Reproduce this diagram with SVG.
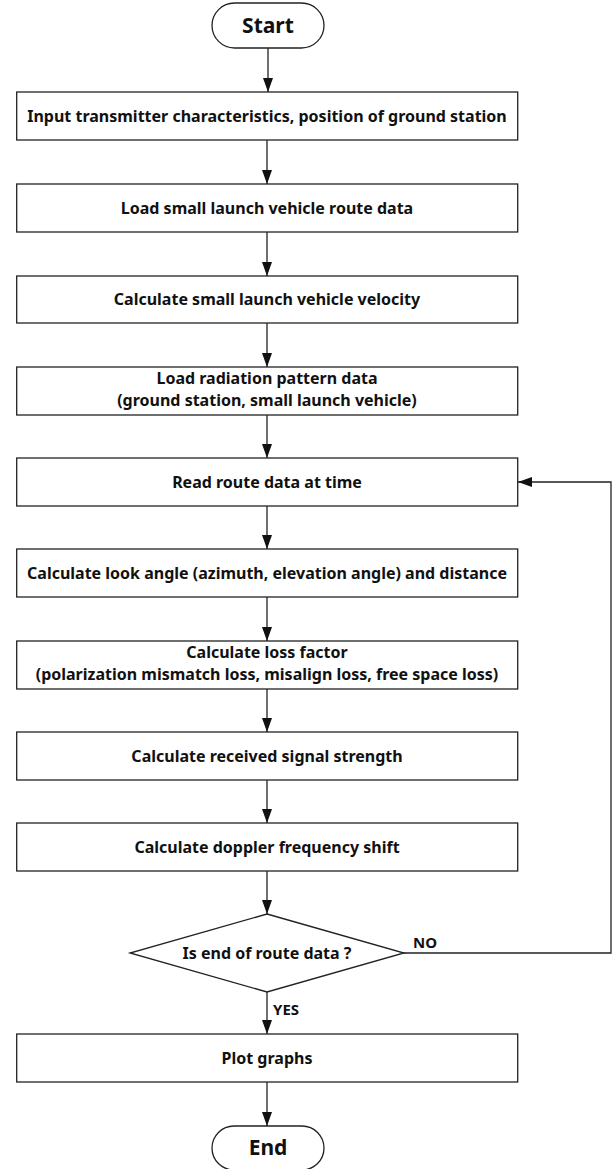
<svg xmlns="http://www.w3.org/2000/svg" width="612" height="1169" viewBox="0 0 612 1169">
<style>
.box{fill:#fff;stroke:#222;stroke-width:1.3}
.t{font-family:"Noto Sans","Open Sans","DejaVu Sans",sans-serif;font-weight:bold;font-size:16px;fill:#111;text-anchor:middle}
.big{font-size:21px}
.lbl{text-anchor:start;font-size:15px}
.c{fill:none;stroke:#222;stroke-width:1.3}
</style>
<defs>
<marker id="ah" markerUnits="userSpaceOnUse" markerWidth="14" markerHeight="10" viewBox="0 0 14 10" refX="14" refY="5" orient="auto">
<path d="M0,0 L14,5 L0,10 z" fill="#111"/>
</marker>
</defs>
<rect width="612" height="1169" fill="#fff"/>
<g id="connectors">
<line class="c" x1="268" y1="48" x2="268" y2="92" marker-end="url(#ah)"/>
<line class="c" x1="267" y1="140" x2="267" y2="184" marker-end="url(#ah)"/>
<line class="c" x1="267" y1="232" x2="267" y2="276" marker-end="url(#ah)"/>
<line class="c" x1="267" y1="323" x2="267" y2="367" marker-end="url(#ah)"/>
<line class="c" x1="267" y1="415" x2="267" y2="458" marker-end="url(#ah)"/>
<line class="c" x1="267" y1="506" x2="267" y2="549" marker-end="url(#ah)"/>
<line class="c" x1="267" y1="597" x2="267" y2="641" marker-end="url(#ah)"/>
<line class="c" x1="267" y1="689" x2="267" y2="732" marker-end="url(#ah)"/>
<line class="c" x1="267" y1="780" x2="267" y2="823" marker-end="url(#ah)"/>
<line class="c" x1="267" y1="871" x2="267" y2="914" marker-end="url(#ah)"/>
<line class="c" x1="267" y1="992" x2="267" y2="1034" marker-end="url(#ah)"/>
<line class="c" x1="267" y1="1082" x2="267" y2="1126" marker-end="url(#ah)"/>
<polyline class="c" points="404,953 611,953 611,482 518,482" marker-end="url(#ah)"/>
<text class="t lbl" x="413" y="948">NO</text>
<text class="t lbl" x="273" y="1015">YES</text>
</g>
<g id="start"><rect class="box" x="212" y="3" width="112" height="45" rx="22.5"/><text class="t big" x="268" y="33">Start</text></g>
<g id="n1"><rect class="box" x="16.7" y="92" width="501" height="48"/><text class="t" x="267" y="121.5">Input transmitter characteristics, position of ground station</text></g>
<g id="n2"><rect class="box" x="16.7" y="184" width="501" height="48"/><text class="t" x="267" y="213.5">Load small launch vehicle route data</text></g>
<g id="n3"><rect class="box" x="16.7" y="276" width="501" height="47"/><text class="t" x="267" y="305">Calculate small launch vehicle velocity</text></g>
<g id="n4"><rect class="box" x="16.7" y="367" width="501" height="48"/><text class="t" x="267" y="384">Load radiation pattern data</text><text class="t" x="267" y="406">(ground station, small launch vehicle)</text></g>
<g id="n5"><rect class="box" x="16.7" y="458" width="501" height="48"/><text class="t" x="267" y="487.5">Read route data at time</text></g>
<g id="n6"><rect class="box" x="16.7" y="549" width="501" height="48"/><text class="t" x="267" y="578.5">Calculate look angle (azimuth, elevation angle) and distance</text></g>
<g id="n7"><rect class="box" x="16.7" y="641" width="501" height="48"/><text class="t" x="267" y="658">Calculate loss factor</text><text class="t" x="267" y="680">(polarization mismatch loss, misalign loss, free space loss)</text></g>
<g id="n8"><rect class="box" x="16.7" y="732" width="501" height="48"/><text class="t" x="267" y="761.5">Calculate received signal strength</text></g>
<g id="n9"><rect class="box" x="16.7" y="823" width="501" height="48"/><text class="t" x="267" y="852.5">Calculate doppler frequency shift</text></g>
<g id="decision"><polygon class="box" points="267,914 404,953 267,992 130,953"/><text class="t" x="267" y="958.5">Is end of route data ?</text></g>
<g id="n10"><rect class="box" x="16.7" y="1034" width="501" height="48"/><text class="t" x="267" y="1063.5">Plot graphs</text></g>
<g id="end"><rect class="box" x="212" y="1126" width="112" height="44" rx="22"/><text class="t big" x="268" y="1155">End</text></g>
</svg>
